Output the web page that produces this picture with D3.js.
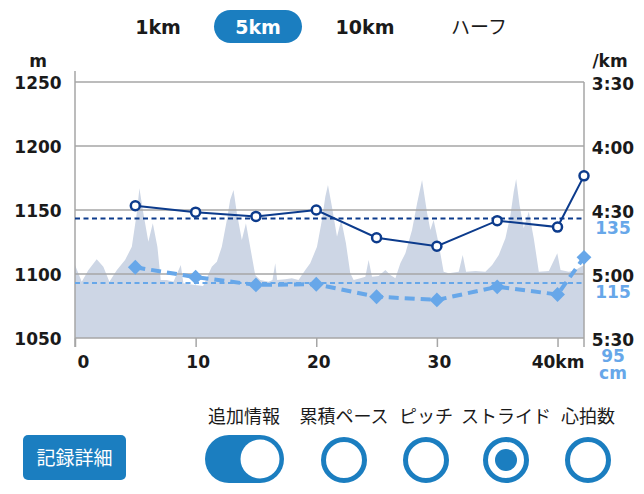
<!DOCTYPE html>
<html>
<head>
<meta charset="utf-8">
<script src="https://cdn.jsdelivr.net/npm/d3@7"></script>
<style>
  body { margin: 0; background: #fff; }
  svg { display: block; }
  .bold { font-family: "DejaVu Sans", sans-serif; font-weight: bold; }
  .jp { font-family: "Noto Sans CJK JP", sans-serif; }
</style>
</head>
<body>
<div id="chart"></div>
<script>
// Split tabs and bottom toggles
const tabs = ['1km', '5km', '10km', 'ハーフ'];
const selectedTab = '5km';
const options = ['累積ペース', 'ピッチ', 'ストライド', '心拍数'];
const selectedOption = 'ストライド';

// Split points (km), pace (sec/km), stride (cm)
const splitKm = [5, 10, 15, 20, 25, 30, 35, 40, 42.195];
const paceSec = [268, 271, 273, 270, 283, 287, 275, 278, 254];
const strideCm = [117.1, 114.0, 111.6, 111.8, 107.9, 106.9, 111.0, 108.6, 120.2];
const avgPace = 274;
const avgStride = 112.2;

// Elevation profile
const elevKm = [0, 0.56, 1.10, 1.80, 2.35, 2.85, 3.46, 4.15, 4.71, 5.12, 5.34, 5.62, 6.08, 6.45, 6.83,
  7.11, 7.61, 8.16, 8.77, 8.99, 9.96, 10.62, 11.34, 11.76, 12.17, 12.59, 12.86, 13.14, 13.42, 13.83,
  14.17, 14.52, 14.94, 15.35, 16.04, 16.37, 16.60, 16.76, 17.43, 17.98, 18.53, 19.09, 19.50, 20.06,
  20.47, 20.75, 20.97, 21.30, 21.72, 22.07, 22.46, 22.82, 23.10, 23.65, 24.07, 24.34, 24.62, 25.17,
  25.73, 26.14, 26.56, 26.97, 27.39, 27.94, 28.36, 28.77, 29.19, 29.46, 29.73, 30.15, 30.56, 30.98,
  31.81, 32.14, 32.42, 33.20, 34.02, 34.58, 35.13, 35.68, 36.10, 36.37, 36.57, 36.85, 37.20, 37.62,
  38.03, 38.45, 39.28, 39.98, 40.25, 40.94, 41.49, 42.195];
const elevM = [1107, 1094, 1103, 1111.5, 1105.7, 1094, 1103, 1110.9, 1121.3, 1147.4, 1167, 1150, 1125.2, 1139.6, 1121.3,
  1095.3, 1095.3, 1094, 1107, 1092.7, 1091.4, 1090.6, 1105.7, 1109.6, 1121.3, 1142.2, 1157.8, 1165.6, 1147.4, 1126.6,
  1139.6, 1121.3, 1099.2, 1095.3, 1094, 1095.3, 1108.4, 1095.3, 1095.9, 1096.6, 1095.3, 1103.1, 1108.4, 1121.3,
  1142.2, 1160.4, 1169.5, 1152.6, 1129.1, 1142.2, 1124, 1100.5, 1095.3, 1096.6, 1097.9, 1110.9, 1097.9, 1098.4,
  1103.1, 1099.2, 1096.6, 1108.4, 1116.2, 1134.4, 1155.2, 1173.4, 1147.4, 1134.4, 1142.2, 1123.4, 1101.8, 1100.5,
  1101.8, 1114.8, 1101.8, 1102.3, 1101.8, 1107, 1114.8, 1127.9, 1146.1, 1164.3, 1174.2, 1153.9, 1135.7, 1148.7,
  1127.9, 1101.8, 1102.3, 1116.2, 1103.1, 1101.8, 1103.1, 1107];

// Axis ticks
const xTicks = [0, 10, 20, 30, 40];
const elevTicks = [1050, 1100, 1150, 1200, 1250];
const paceTicks = [210, 240, 270, 300, 330];
const strideTicks = [95, 115, 135];

const width = 644, height = 494;
const blue = '#1b7ec0', navy = '#0c3b8c', light = '#67a7e9', axisGray = '#a6a6a6';

const svg = d3.select('#chart').append('svg')
    .attr('width', width)
    .attr('height', height);

// Scales
const x = d3.scaleLinear().domain([0, 42.195]).range([75, 584]);
const yElev = d3.scaleLinear().domain([1050, 1250]).range([338, 82]);
const yPace = d3.scaleLinear().domain([210, 330]).range([82, 338]);
const yStride = d3.scaleLinear().domain([95, 135]).range([338, 210]);

const fmtPace = s => Math.floor(s / 60) + ':' + String(s % 60).padStart(2, '0');

// Tabs
const tabX = [158, 258, 365, 479];
tabs.forEach((t, i) => {
    const sel = t === selectedTab;
    if (sel) {
        svg.append('rect')
            .attr('x', tabX[i] - 44).attr('y', 10)
            .attr('width', 88).attr('height', 33)
            .attr('rx', 16.5).attr('fill', blue);
    }
    svg.append('text')
        .attr('class', i === 3 ? 'jp' : 'bold')
        .attr('x', tabX[i]).attr('y', 34)
        .attr('text-anchor', 'middle')
        .attr('font-size', 19)
        .attr('fill', sel ? '#fff' : '#1a1a1a')
        .text(t);
});

// Elevation area
const area = d3.area()
    .x((d, i) => x(elevKm[i]))
    .y0(yElev(1050))
    .y1(d => yElev(d));

svg.append('path')
    .datum(elevM)
    .attr('d', area)
    .attr('fill', '#cdd6e5');

// Grid lines
svg.append('g')
    .selectAll('line')
    .data(elevTicks)
    .join('line')
    .attr('x1', x(0)).attr('x2', x(42.195))
    .attr('y1', d => yElev(d)).attr('y2', d => yElev(d))
    .attr('stroke', axisGray).attr('stroke-width', 1.5);

// Left axis
const leftAxis = svg.append('g')
    .attr('transform', `translate(${x(0)},0)`)
    .call(d3.axisLeft(yElev).tickValues(elevTicks).tickFormat(d3.format('d')).tickSize(0).tickPadding(0));
leftAxis.select('.domain').remove();
leftAxis.selectAll('text')
    .attr('class', 'bold')
    .attr('x', 38 - x(0))
    .attr('text-anchor', 'middle')
    .attr('dy', '0.38em')
    .attr('font-size', 17)
    .attr('fill', '#1a1a1a');
svg.append('line')
    .attr('x1', x(0)).attr('x2', x(0))
    .attr('y1', 71).attr('y2', 347)
    .attr('stroke', axisGray).attr('stroke-width', 1.5);

// Right axis (pace + stride)
const rightAxis = svg.append('g')
    .attr('transform', `translate(${x(42.195)},0)`)
    .call(d3.axisRight(yPace).tickValues(paceTicks).tickFormat(fmtPace).tickSize(0).tickPadding(0));
rightAxis.select('.domain').remove();
rightAxis.selectAll('text')
    .attr('class', 'bold')
    .attr('x', 613 - x(42.195))
    .attr('text-anchor', 'middle')
    .attr('dy', '0.42em')
    .attr('font-size', 17)
    .attr('fill', '#1a1a1a');

const strideAxis = svg.append('g')
    .attr('transform', `translate(${x(42.195)},0)`)
    .call(d3.axisRight(yStride).tickValues(strideTicks).tickSize(0).tickPadding(0));
strideAxis.select('.domain').remove();
strideAxis.selectAll('text')
    .attr('class', 'bold')
    .attr('x', 613 - x(42.195))
    .attr('text-anchor', 'middle')
    .attr('dy', '1.37em')
    .attr('font-size', 17)
    .attr('fill', light);

svg.append('line')
    .attr('x1', x(42.195)).attr('x2', x(42.195))
    .attr('y1', yPace(210)).attr('y2', 347)
    .attr('stroke', axisGray).attr('stroke-width', 1.5);

// Bottom axis
const bottomAxis = svg.append('g')
    .attr('transform', `translate(0,${yElev(1050)})`)
    .call(d3.axisBottom(x).tickValues(xTicks).tickSize(9).tickPadding(9)
        .tickFormat(d => d === 40 ? '40km' : d));
bottomAxis.select('.domain').remove();
bottomAxis.selectAll('line').attr('stroke', axisGray).attr('stroke-width', 1.5);
bottomAxis.selectAll('text')
    .attr('class', 'bold')
    .attr('font-size', 17)
    .attr('fill', '#1a1a1a')
    .attr('text-anchor', d => d === 0 ? 'start' : 'middle')
    .attr('dx', d => d === 40 ? 0 : 2);

// Unit labels
svg.append('text').attr('class', 'bold')
    .attr('x', 38).attr('y', 67).attr('text-anchor', 'middle')
    .attr('font-size', 17).attr('fill', '#1a1a1a').text('m');
svg.append('text').attr('class', 'bold')
    .attr('x', 610).attr('y', 67).attr('text-anchor', 'middle')
    .attr('font-size', 17).attr('fill', '#1a1a1a').text('/km');
svg.append('text').attr('class', 'bold')
    .attr('x', 613).attr('y', 379).attr('text-anchor', 'middle')
    .attr('font-size', 17).attr('fill', light).text('cm');

// Average lines
svg.append('line')
    .attr('x1', x(0)).attr('x2', x(42.195))
    .attr('y1', yPace(avgPace)).attr('y2', yPace(avgPace))
    .attr('stroke', navy).attr('stroke-width', 2)
    .attr('stroke-dasharray', '5,3.5');
svg.append('line')
    .attr('x1', x(0)).attr('x2', x(42.195))
    .attr('y1', yStride(avgStride)).attr('y2', yStride(avgStride))
    .attr('stroke', light).attr('stroke-width', 2)
    .attr('stroke-dasharray', '5,3.5');

// Stride line + diamonds
svg.append('path')
    .datum(strideCm)
    .attr('d', d3.line().x((d, i) => x(splitKm[i])).y(d => yStride(d)))
    .attr('fill', 'none')
    .attr('stroke', light).attr('stroke-width', 4)
    .attr('stroke-dasharray', '10,6');
svg.append('g')
    .selectAll('path')
    .data(strideCm)
    .join('path')
    .attr('d', d3.symbol().type(d3.symbolSquare).size(110))
    .attr('transform', (d, i) => `translate(${x(splitKm[i])},${yStride(d)}) rotate(45)`)
    .attr('fill', light);

// Pace line + circles
svg.append('path')
    .datum(paceSec)
    .attr('d', d3.line().x((d, i) => x(splitKm[i])).y(d => yPace(d)))
    .attr('fill', 'none')
    .attr('stroke', navy).attr('stroke-width', 2);
svg.append('g')
    .selectAll('circle')
    .data(paceSec)
    .join('circle')
    .attr('cx', (d, i) => x(splitKm[i]))
    .attr('cy', d => yPace(d))
    .attr('r', 4.5)
    .attr('fill', '#fff')
    .attr('stroke', navy).attr('stroke-width', 2.5);

// Bottom controls
svg.append('rect')
    .attr('x', 23).attr('y', 435).attr('width', 103).attr('height', 45)
    .attr('rx', 5).attr('fill', blue);
svg.append('text').attr('class', 'jp')
    .attr('x', 74.5).attr('y', 465).attr('text-anchor', 'middle')
    .attr('font-size', 19).attr('fill', '#fff').text('記録詳細');

svg.append('text').attr('class', 'jp')
    .attr('x', 244).attr('y', 423).attr('text-anchor', 'middle')
    .attr('font-size', 18).attr('fill', '#1a1a1a').text('追加情報');
svg.append('rect')
    .attr('x', 205).attr('y', 435).attr('width', 79).attr('height', 48)
    .attr('rx', 24).attr('fill', blue);
svg.append('circle')
    .attr('cx', 260).attr('cy', 459).attr('r', 19.5).attr('fill', '#fff');

const optX = [344, 426, 506, 588];
options.forEach((o, i) => {
    svg.append('text').attr('class', 'jp')
        .attr('x', optX[i]).attr('y', 423).attr('text-anchor', 'middle')
        .attr('font-size', 18).attr('fill', '#1a1a1a').text(o);
    svg.append('circle')
        .attr('cx', optX[i]).attr('cy', 460).attr('r', 20.5)
        .attr('fill', '#fff').attr('stroke', blue).attr('stroke-width', 5);
    if (o === selectedOption) {
        svg.append('circle')
            .attr('cx', optX[i]).attr('cy', 460).attr('r', 11)
            .attr('fill', blue);
    }
});
</script>
</body>
</html>
